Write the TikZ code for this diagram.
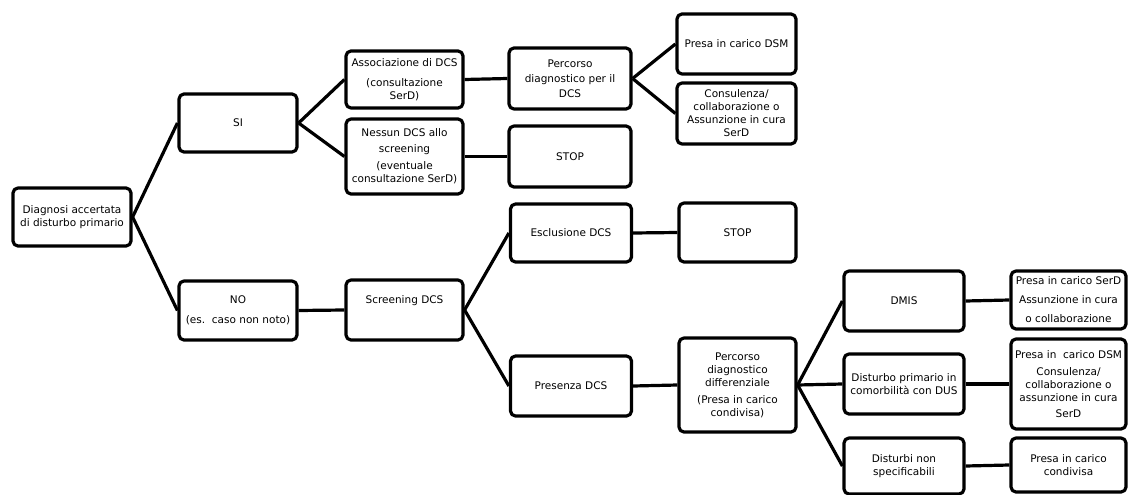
\documentclass[tikz,border=0pt]{standalone}
\usepackage{fontspec}
\setmainfont{DejaVu Sans}

\begin{document}
\begin{tikzpicture}[x=1pt,y=-1pt,line width=3.2pt,line join=round,main node/.style={draw,rounded corners=5pt,align=center,inner sep=1pt,minimum width=118pt,minimum height=58pt,font=\fontsize{10.5}{13}\selectfont}]
                \useasboundingbox[fill=white] (0,0) rectangle (1128,495);
                \node[main node] (1) at (72,217) {Diagnosi accertata\\di disturbo primario};
                \node[main node] (2) at (238,123) {SI};
                \node[main node,minimum height=59pt] (3) at (238,310.5) {NO\\[7pt](es.\ \ caso non noto)};
                \node[main node,minimum width=117pt,minimum height=57pt] (4) at (404.5,79.5) {Associazione di DCS\\[7pt](consultazione\\SerD)};
                \node[main node,minimum width=117pt,minimum height=75pt] (5) at (404.5,156.5) {Nessun DCS allo\\[3pt]screening\\[4pt](eventuale\\consultazione SerD)};
                \node[main node,minimum width=122pt,minimum height=61pt] (6) at (570,78.5) {Percorso\\[2pt]diagnostico per il\\[2pt]DCS};
                \node[main node,minimum width=122pt,minimum height=61pt] (7) at (570,156.5) {STOP};
                \node[main node,minimum width=119pt,minimum height=60pt] (8) at (736.5,44) {Presa in carico DSM};
                \node[main node,minimum width=119pt,minimum height=61pt] (9) at (736.5,113.5) {Consulenza/\\collaborazione o\\Assunzione in cura\\SerD};
                \node[main node,minimum width=117pt,minimum height=60pt,text depth=20pt] (10) at (404.5,310) {Screening DCS};
                \node[main node,minimum width=121pt] (11) at (571,233) {Esclusione DCS};
                \node[main node,minimum width=117pt,minimum height=59pt] (12) at (737.5,232.5) {STOP};
                \node[main node,minimum width=121pt,minimum height=60pt] (13) at (571,386) {Presenza DCS};
                \node[main node,minimum width=117pt,minimum height=94pt] (14) at (737.5,385) {Percorso\\diagnostico\\differenziale\\[4pt](Presa in carico\\condivisa)};
                \node[main node,minimum width=120pt,minimum height=60pt] (15) at (904,301) {DMIS};
                \node[main node,minimum width=120pt,minimum height=60pt] (16) at (904,384) {Disturbo primario in\\comorbilità con DUS};
                \node[main node,minimum width=120pt,minimum height=56pt] (17) at (904,466) {Disturbi non\\specificabili};
                \node[main node,minimum width=115pt] (18) at (1068.5,300) {Presa in carico SerD\\[6pt]Assunzione in cura\\[6pt]o collaborazione};
                \node[main node,minimum width=115pt,minimum height=90pt] (19) at (1068.5,384) {Presa in\ \ carico DSM\\[4pt]Consulenza/\\collaborazione o\\assunzione in cura\\[3pt]SerD};
                \node[main node,minimum width=115pt,minimum height=54pt] (20) at (1068.5,465) {Presa in carico\\condivisa};
    
                \path
                    (1.east) edge (2.west)
                    (1.east) edge (3.west)
                    (2.east) edge (4.west)
                    (2.east) edge (5.west)
                    (4.east) edge (6.west)
                    (5.east) edge (7.west)
                    (6.east) edge (8.west)
                    (6.east) edge (9.west)
                    (3.east) edge (10.west)
                    (10.east) edge (11.west)
                    (10.east) edge (13.west)
                    (11.east) edge (12.west)
                    (13.east) edge (14.west)
                    (14.east) edge (15.west)
                    (14.east) edge (16.west)
                    (14.east) edge (17.west)
                    (15.east) edge (18.west)
                    (16.east) edge (19.west)
                    (17.east) edge (20.west)
                    ;
            \end{tikzpicture}
\end{document}
